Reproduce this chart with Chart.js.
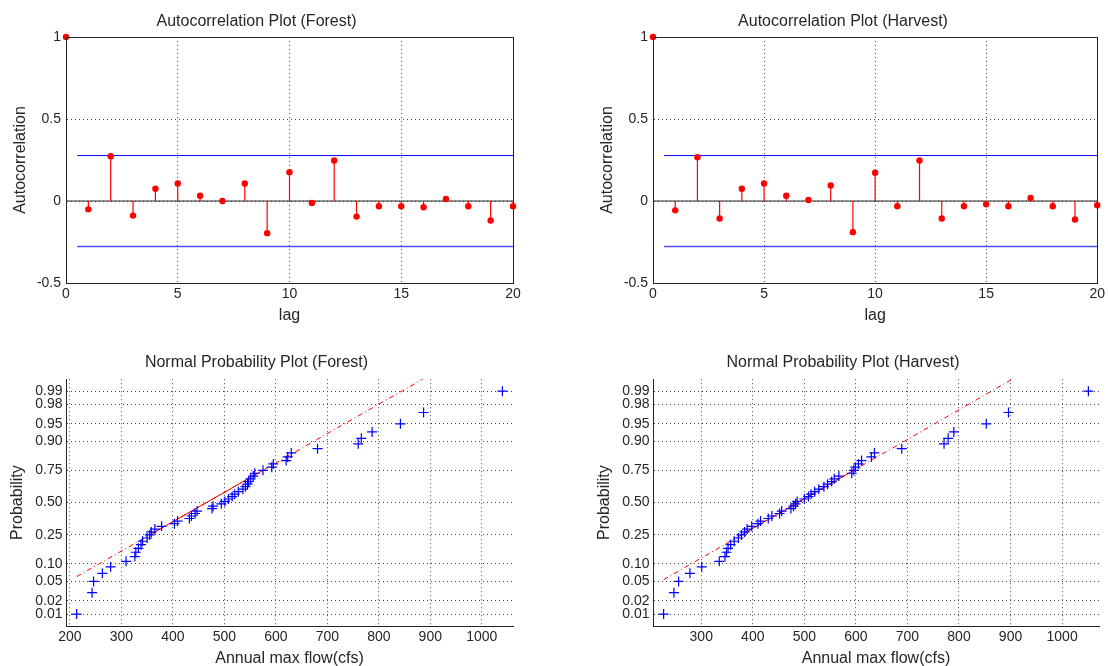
<!DOCTYPE html>
<html>
<head>
<meta charset="utf-8">
<title>Autocorrelation and normal probability plots</title>
<script src="https://cdn.jsdelivr.net/npm/chart.js@4.4.0/dist/chart.umd.min.js"></script>
<style>
  html, body { margin: 0; padding: 0; background: #fff; overflow: hidden; }
  .panel { position: absolute; }
</style>
</head>
<body>
<div class="panel" style="left:0px;top:0px"><canvas id="acfForest" width="540" height="325"></canvas></div>
<div class="panel" style="left:587px;top:0px"><canvas id="acfHarvest" width="521" height="325"></canvas></div>
<div class="panel" style="left:0px;top:340px"><canvas id="nppForest" width="540" height="328"></canvas></div>
<div class="panel" style="left:587px;top:340px"><canvas id="nppHarvest" width="521" height="328"></canvas></div>

<script>
// --- data ---
const lags = [0, 1, 2, 3, 4, 5, 6, 7, 8, 9, 10, 11, 12, 13, 14, 15, 16, 17, 18, 19, 20];
const acfForest = [1, -0.051, 0.273, -0.089, 0.075, 0.107, 0.032, 0.0, 0.107, -0.196, 0.176,
  -0.012, 0.247, -0.095, -0.032, -0.032, -0.038, 0.012, -0.032, -0.119, -0.032];
const acfHarvest = [1, -0.057, 0.267, -0.107, 0.075, 0.107, 0.032, 0.006, 0.095, -0.19, 0.172,
  -0.032, 0.247, -0.107, -0.032, -0.02, -0.032, 0.018, -0.032, -0.113, -0.026];
const acfBound = 0.277;      // confidence bounds (+/-)
const acfBoundStart = 0.5;
const acfXTicks = [0, 5, 10, 15, 20];
const acfYTicks = [-0.5, 0, 0.5, 1];

// annual max flow (cfs), sorted
const flowForest = [213, 243, 246, 263, 279, 309, 326, 328, 333, 338, 341, 350, 355, 358, 365,
  378, 403, 409, 432, 436, 443, 447, 476, 478, 494, 501, 508, 515, 520, 527, 536, 541, 545, 547,
  551, 556, 559, 575, 592, 595, 620, 623, 630, 681, 760, 766, 787, 842, 887, 1040];
const flowHarvest = [227, 247, 256, 278, 301, 335, 346, 349, 352, 357, 364, 372, 378, 384, 389,
  398, 410, 415, 430, 437, 452, 456, 474, 479, 483, 486, 500, 508, 513, 520, 528, 538, 545, 553,
  558, 567, 592, 596, 599, 605, 611, 630, 636, 689, 771, 779, 790, 853, 896, 1051];
const probTicks = [0.01, 0.02, 0.05, 0.10, 0.25, 0.50, 0.75, 0.90, 0.95, 0.98, 0.99];
const flowTicksForest = [200, 300, 400, 500, 600, 700, 800, 900, 1000];
const flowTicksHarvest = [300, 400, 500, 600, 700, 800, 900, 1000];

const FONT = '"Liberation Sans", Arial, sans-serif';
const INK = '#262626';
const GRID = '#444444';
const RED = '#ff0000';
const BLUE = '#0000ff';

// inverse normal cdf (Acklam)
function norminv(p) {
  const a = [-3.969683028665376e+01, 2.209460984245205e+02, -2.759285104469687e+02, 1.383577518672690e+02, -3.066479806614716e+01, 2.506628277459239e+00];
  const b = [-5.447609879822406e+01, 1.615858368580409e+02, -1.556989798598866e+02, 6.680131188771972e+01, -1.328068155288572e+01];
  const c = [-7.784894002430293e-03, -3.223964580411365e-01, -2.400758276808337e+00, -2.549732539343734e+00, 4.374664141464968e+00, 2.938163982698783e+00];
  const d = [7.784695709041462e-03, 3.224671290700398e-01, 2.445134137142996e+00, 3.754408661907416e+00];
  const pl = 0.02425;
  let q, r;
  if (p < pl) {
    q = Math.sqrt(-2 * Math.log(p));
    return (((((c[0]*q+c[1])*q+c[2])*q+c[3])*q+c[4])*q+c[5]) / ((((d[0]*q+d[1])*q+d[2])*q+d[3])*q+1);
  }
  if (p > 1 - pl) {
    q = Math.sqrt(-2 * Math.log(1 - p));
    return -(((((c[0]*q+c[1])*q+c[2])*q+c[3])*q+c[4])*q+c[5]) / ((((d[0]*q+d[1])*q+d[2])*q+d[3])*q+1);
  }
  q = p - 0.5; r = q * q;
  return (((((a[0]*r+a[1])*r+a[2])*r+a[3])*r+a[4])*r+a[5])*q / (((((b[0]*r+b[1])*r+b[2])*r+b[3])*r+b[4])*r+1);
}

// matlab-style percentile of sorted data
function prctile(sorted, pct) {
  const n = sorted.length;
  let pos = n * pct / 100 + 0.5;
  pos = Math.min(Math.max(pos, 1), n);
  const lo = Math.floor(pos), hi = Math.ceil(pos);
  return sorted[lo - 1] + (pos - lo) * (sorted[hi - 1] - sorted[lo - 1]);
}

// draws the closed box round the plot area
const boxPlugin = {
  id: 'box',
  afterDraw(chart) {
    const { ctx, chartArea: a } = chart;
    ctx.save();
    ctx.strokeStyle = INK;
    ctx.lineWidth = 1;
    ctx.strokeRect(Math.round(a.left) + 0.5, Math.round(a.top) + 0.5,
      Math.round(a.right - a.left), Math.round(a.bottom - a.top));
    ctx.restore();
  }
};

function tickFont() { return { family: FONT, size: 14 }; }
function labelFont() { return { family: FONT, size: 16, weight: 'normal' }; }

function acfChart(id, title, values, padRight) {
  const stems = [];
  lags.forEach((lag, i) => {
    stems.push({ x: lag, y: 0 }, { x: lag, y: values[i] }, { x: lag, y: null });
  });
  const xMin = acfXTicks[0], xMax = acfXTicks[acfXTicks.length - 1];
  return new Chart(document.getElementById(id), {
    type: 'scatter',
    data: {
      datasets: [
        { data: lags.map((lag, i) => ({ x: lag, y: values[i] })), pointRadius: 3.2,
          backgroundColor: RED, borderColor: RED, borderWidth: 0, clip: false, order: 0 },
        { data: stems, showLine: true, borderColor: RED, borderWidth: 1.2, pointRadius: 0, order: 1 },
        { data: [{ x: acfBoundStart, y: acfBound }, { x: xMax, y: acfBound }], showLine: true,
          borderColor: BLUE, borderWidth: 1, pointRadius: 0, order: 2 },
        { data: [{ x: acfBoundStart, y: -acfBound }, { x: xMax, y: -acfBound }], showLine: true,
          borderColor: '#4d4dff', borderWidth: 1.4, pointRadius: 0, order: 2 },
        { data: [{ x: xMin, y: 0 }, { x: xMax, y: 0 }], showLine: true,
          borderColor: INK, borderWidth: 1, pointRadius: 0, order: 3 }
      ]
    },
    options: {
      responsive: false,
      animation: false,
      events: [],
      layout: { padding: { right: padRight } },
      plugins: {
        legend: { display: false },
        tooltip: { enabled: false },
        title: { display: true, text: title, color: INK, font: labelFont(), padding: { top: 12, bottom: 5.8 } }
      },
      scales: {
        x: {
          type: 'linear', min: xMin, max: xMax,
          afterBuildTicks: s => { s.ticks = acfXTicks.map(v => ({ value: v })); },
          afterFit: s => { s.height = 42; },
          ticks: { color: INK, font: tickFont(), padding: 3, maxRotation: 0, autoSkip: false, callback: v => String(v) },
          grid: { color: GRID, lineWidth: 1, drawTicks: false },
          border: { display: true, color: INK, dash: [1, 3] },
          title: { display: true, text: 'lag', color: INK, font: labelFont(), padding: 0 }
        },
        y: {
          type: 'linear', min: acfYTicks[0], max: acfYTicks[acfYTicks.length - 1],
          afterBuildTicks: s => { s.ticks = acfYTicks.map(v => ({ value: v })); },
          afterFit: s => { s.width = 66; },
          ticks: { color: INK, font: tickFont(), padding: 5, autoSkip: false, callback: v => String(v) },
          grid: { color: GRID, lineWidth: 1, drawTicks: false },
          border: { display: true, color: INK, dash: [1, 3] },
          title: { display: true, text: 'Autocorrelation', color: INK, font: labelFont(), padding: { top: 11, bottom: 0 } }
        }
      }
    },
    plugins: [boxPlugin]
  });
}

function nppChart(id, title, flows, xTicks, padRight) {
  const n = flows.length;
  // plotting positions (i - 0.5)/n on a normal quantile scale, as normplot does
  const pts = flows.map((v, i) => ({ x: v, y: norminv((i + 0.5) / n) }));
  const zMax = norminv(0.995);
  const range = flows[n - 1] - flows[0];
  const xMin = flows[0] - 0.025 * range, xMax = flows[n - 1] + 0.025 * range;
  // reference line through the quartiles
  const q1 = prctile(flows, 25), q3 = prctile(flows, 75);
  const z1 = norminv(0.25), z3 = norminv(0.75);
  const slope = (z3 - z1) / (q3 - q1);
  const lineAt = x => ({ x: x, y: z1 + slope * (x - q1) });
  return new Chart(document.getElementById(id), {
    type: 'scatter',
    data: {
      datasets: [
        { data: pts, pointStyle: 'cross', pointRadius: 5, borderColor: BLUE, borderWidth: 1.2,
          backgroundColor: 'transparent', clip: false, order: 0 },
        { data: [lineAt(q1), lineAt(q3)], showLine: true, borderColor: RED, borderWidth: 1,
          pointRadius: 0, order: 1 },
        { data: [lineAt(flows[0]), lineAt(flows[n - 1])], showLine: true, borderColor: RED,
          borderWidth: 1, borderDash: [5, 3, 1, 3], pointRadius: 0, order: 1 }
      ]
    },
    options: {
      responsive: false,
      animation: false,
      events: [],
      layout: { padding: { right: padRight } },
      plugins: {
        legend: { display: false },
        tooltip: { enabled: false },
        title: { display: true, text: title, color: INK, font: labelFont(), padding: { top: 13, bottom: 7 } }
      },
      scales: {
        x: {
          type: 'linear', min: xMin, max: xMax,
          afterBuildTicks: s => { s.ticks = xTicks.map(v => ({ value: v })); },
          afterFit: s => { s.height = 42; },
          ticks: { color: INK, font: tickFont(), padding: 3, maxRotation: 0, autoSkip: false, callback: v => String(v) },
          grid: { color: GRID, lineWidth: 1, drawTicks: false },
          border: { display: true, color: INK, dash: [1, 3] },
          title: { display: true, text: 'Annual max flow(cfs)', color: INK, font: labelFont(), padding: 0 }
        },
        y: {
          type: 'linear', min: -zMax, max: zMax,
          afterBuildTicks: s => { s.ticks = probTicks.map(p => ({ value: norminv(p) })); },
          afterFit: s => { s.width = 66; },
          ticks: { color: INK, font: tickFont(), padding: 3.5, autoSkip: false,
            callback: (v, i) => probTicks[i].toFixed(2) },
          grid: { color: GRID, lineWidth: 1, drawTicks: false },
          border: { display: true, color: INK, dash: [1, 3] },
          title: { display: true, text: 'Probability', color: INK, font: labelFont(), padding: { top: 7.5, bottom: 0 } }
        }
      }
    }
  });
}

acfChart('acfForest', 'Autocorrelation Plot (Forest)', acfForest, 27);
acfChart('acfHarvest', 'Autocorrelation Plot (Harvest)', acfHarvest, 9);
nppChart('nppForest', 'Normal Probability Plot (Forest)', flowForest, flowTicksForest, 27);
nppChart('nppHarvest', 'Normal Probability Plot (Harvest)', flowHarvest, flowTicksHarvest, 9);
</script>
</body>
</html>
